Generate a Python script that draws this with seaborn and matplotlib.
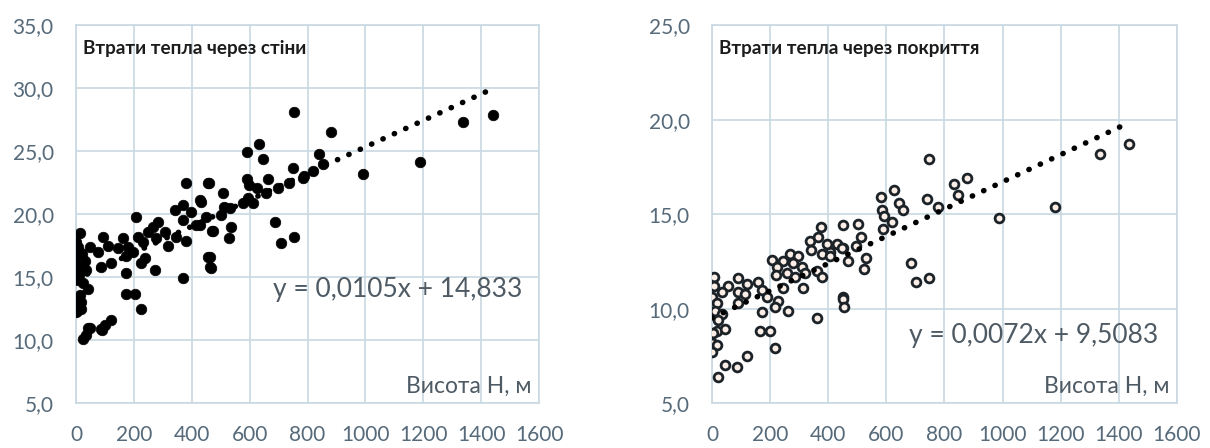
import numpy as np
import pandas as pd
import matplotlib
matplotlib.use("Agg")
import matplotlib.pyplot as plt
import seaborn as sns

# heat losses through walls (left panel): height H, m / loss value
h_walls = [754, 882, 841, 751, 855, 789, 993, 1187, 1336, 1440,
           633, 592, 647, 457, 592, 664, 599, 626, 699, 737, 785, 820,
           509, 657, 595, 578, 612, 429, 512, 533, 502, 450, 429, 689,
           536, 474, 529, 709, 754, 457, 464,
           381, 460, 433, 370, 342, 398, 208, 284, 370, 266, 415, 471,
           249, 308, 215, 277, 346, 381, 14, 93, 163, 232, 318, 7, 48,
           111, 145, 180, 17, 76, 173, 197, 0, 31, 239, 464, 86, 121,
           225, 273, 467, 0, 35, 173, 370, 7, 42, 173, 204, 14, 225, 7,
           17, 0, 121, 86, 48, 35, 100, 24, 42, 90,
           0, 7, 3, 10, 14, 21, 24, 0, 10, 3, 17]
q_walls = [28.1, 26.5, 24.8, 23.7, 24.0, 23.0, 23.2, 24.1, 27.3, 27.9,
           25.6, 24.9, 24.4, 22.5, 22.8, 22.8, 22.3, 22.1, 22.1, 22.5, 22.9, 23.4,
           21.7, 21.7, 21.3, 20.9, 20.9, 21.1, 20.6, 20.5, 19.9, 19.8, 19.1, 19.4,
           19.0, 18.7, 18.1, 17.7, 18.2, 16.6, 15.8,
           22.5, 22.5, 21.0, 20.7, 20.3, 20.2, 19.8, 19.4, 19.5, 19.0, 19.1, 18.7,
           18.6, 18.6, 18.2, 18.1, 18.2, 17.9, 18.5, 18.2, 18.1, 17.8, 17.5, 17.4, 17.4,
           17.5, 17.3, 17.4, 16.9, 17.0, 16.7, 17.0, 16.3, 16.3, 16.5, 16.6, 15.8, 16.1,
           16.1, 15.6, 15.7, 15.4, 15.6, 15.3, 14.9, 14.8, 14.1, 13.7, 13.7, 13.6, 12.5, 12.8,
           12.5, 12.2, 11.6, 10.9, 11.0, 10.4, 11.2, 10.1, 11.0, 10.8,
           17.8, 17.0, 16.0, 15.2, 15.8, 16.8, 14.5, 14.9, 13.2, 12.3, 13.0]

# heat losses through roofs (right panel)
h_roofs = [748, 876, 834, 628, 583, 741, 848, 645, 779, 586, 659, 593, 621,
           452, 503, 590, 514, 497, 431, 452, 407, 531, 469, 524, 686, 703, 748, 452,
           1434, 1334, 1179, 986,
           376, 338, 366, 397, 341, 379, 407, 448, 269, 297, 207, 245, 279, 310,
           224, 221, 259, 286, 321, 362, 379, 7, 90, 159, 55, 121, 7, 90, 172,
           245, 314, 34, 114, 190, 0, 17, 90, 228, 217, 452, 455, 10, 34, 172,
           262, 21, 362, 17, 45, 166, 200,
           3, 0, 17, 0, 217, 121, 86, 45, 21]
q_roofs = [17.9, 16.9, 16.6, 16.3, 15.9, 15.8, 16.0, 15.6, 15.4, 15.2, 15.2, 14.9, 14.6,
           14.4, 14.5, 14.2, 13.8, 13.3, 13.4, 13.2, 13.0, 12.7, 12.5, 12.1, 12.4, 11.4, 11.6, 10.6,
           18.7, 18.2, 15.4, 14.8,
           14.3, 13.6, 13.8, 13.4, 13.1, 12.9, 12.8, 13.2, 12.9, 12.8, 12.6, 12.5, 12.4, 12.2,
           12.2, 11.8, 11.9, 11.7, 11.9, 12.0, 11.7, 11.7, 11.6, 11.4, 11.2, 11.3, 11.2, 10.9, 11.0,
           11.1, 11.1, 10.9, 10.8, 10.6, 10.6, 10.3, 10.3, 10.4, 10.1, 10.5, 10.1, 9.9, 9.7, 9.8,
           9.9, 9.4, 9.5, 8.8, 8.9, 8.8, 8.8,
           8.7, 8.2, 8.1, 7.7, 7.9, 7.5, 6.9, 7.0, 6.4]

# trend line coefficients from the chart
slope_walls, icept_walls = 0.0105, 14.833
slope_roofs, icept_roofs = 0.0072, 9.5083

x_ticks = [0, 200, 400, 600, 800, 1000, 1200, 1400, 1600]
y_ticks_walls = [5, 10, 15, 20, 25, 30, 35]
y_labels_walls = ["5,0", "10,0", "15,0", "20,0", "25,0", "30,0", "35,0"]
y_ticks_roofs = [5, 10, 15, 20, 25]
y_labels_roofs = ["5,0", "10,0", "15,0", "20,0", "25,0"]

titles = ["Втрати тепла через стіни", "Втрати тепла через покриття"]
eq_texts = ["y = 0,0105x + 14,833", "y = 0,0072x + 9,5083"]
x_label = "Висота Н, м"

sns.set_style("white")
plt.rcParams['font.family'] = ['Lato', 'DejaVu Sans']

grid_col = "#c9d8e2"
tick_col = "#566a7a"
text_col = "#4e5a64"

fig = plt.figure(figsize=(12.1, 4.48), dpi=100)
ax1 = fig.add_axes([0.0628, 0.100, 0.3827, 0.844])
ax2 = fig.add_axes([0.5884, 0.100, 0.3843, 0.844])

df_w = pd.DataFrame({"H": h_walls, "Q": q_walls})
df_r = pd.DataFrame({"H": h_roofs, "Q": q_roofs})

sns.scatterplot(data=df_w, x="H", y="Q", ax=ax1, color="black", s=58,
                edgecolor="black", linewidth=0.5, zorder=3)
sns.scatterplot(data=df_r, x="H", y="Q", ax=ax2, facecolor="#fbeee6", s=40,
                edgecolor="#1b2328", linewidth=2.0, zorder=3)

for ax, hs, sl, ic in [(ax1, h_walls, slope_walls, icept_walls),
                       (ax2, h_roofs, slope_roofs, icept_roofs)]:
    xs = np.array([min(hs), max(hs)])
    ax.plot(xs, sl * xs + ic, color="black", lw=4,
            linestyle=(0, (0.05, 2.2)), dash_capstyle="round", zorder=4)

panels = [(ax1, y_ticks_walls, y_labels_walls, 0.30, 0.963, 0),
          (ax2, y_ticks_roofs, y_labels_roofs, 0.18, 0.96, 1)]
for ax, yt, yl, eq_y, eq_x, i in panels:
    ax.set_xlim(0, 1600)
    ax.set_ylim(yt[0], yt[-1])
    ax.set_xticks(x_ticks)
    ax.set_xticklabels([str(t) for t in x_ticks])
    ax.set_yticks(yt)
    ax.set_yticklabels(yl)
    ax.grid(True, color=grid_col, lw=1.2)
    ax.set_axisbelow(True)
    for sp in ax.spines.values():
        sp.set_color(grid_col)
        sp.set_linewidth(1.2)
    ax.tick_params(length=0, labelsize=15, colors=tick_col)
    ax.tick_params(axis="x", pad=16)
    ax.tick_params(axis="y", pad=16)
    ax.set_xlabel("")
    ax.set_ylabel("")
    ax.text(0.016, 0.96, titles[i], transform=ax.transAxes, ha="left", va="top",
            fontsize=13.6, color="#1c1c1c", fontweight="bold")
    ax.text(eq_x, eq_y, eq_texts[i], transform=ax.transAxes, ha="right",
            va="center", fontsize=19, color=text_col)
    ax.text(0.983, 0.045, x_label, transform=ax.transAxes, ha="right",
            va="center", fontsize=16.5, color=text_col)

fig.savefig("out.png", dpi=100, facecolor="white")
